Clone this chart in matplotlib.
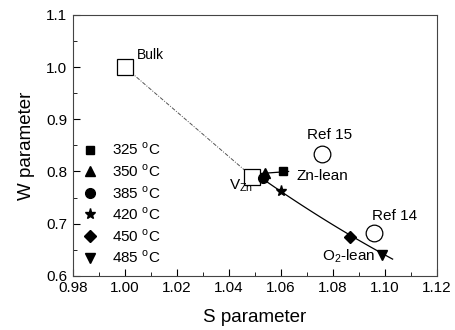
import numpy as np
import matplotlib
matplotlib.use('Agg')
import matplotlib.pyplot as plt

plt.rcParams['font.family'] = ['Liberation Sans', 'DejaVu Sans']
plt.rcParams['mathtext.fontset'] = 'custom'
plt.rcParams['mathtext.rm'] = 'Liberation Sans'

# measured samples
temps = ['325', '350', '385', '420', '450', '485']
markers = ['s', '^', 'o', '*', 'D', 'v']
s_vals = [1.061, 1.054, 1.053, 1.060, 1.0865, 1.099]
w_vals = [0.800, 0.797, 0.788, 0.763, 0.675, 0.640]
msizes = [6, 7, 7, 8, 6, 7]

# reference states (open symbols)
bulk = (1.000, 1.000)
vzn = (1.049, 0.790)
ref15 = (1.076, 0.834)
ref14 = (1.096, 0.682)

# guide lines
zn_lean_s = [1.052, 1.063]
zn_lean_w = [0.796, 0.800]
o2_lean_s = [1.051, 1.060, 1.087, 1.103]
o2_lean_w = [0.791, 0.765, 0.675, 0.633]

fig = plt.figure(figsize=(4.55, 3.3), dpi=100)
ax = fig.add_axes([0.160, 0.164, 0.800, 0.791])

ax.plot([bulk[0], vzn[0]], [bulk[1], vzn[1]], color='#555555', lw=0.7,
        linestyle=(0, (4, 1.5, 1, 1.5)), zorder=1)
ax.plot(zn_lean_s, zn_lean_w, color='black', lw=0.9, zorder=1)
c = np.polyfit(o2_lean_s, o2_lean_w, 2)
xs = np.linspace(o2_lean_s[0], o2_lean_s[-1], 100)
ax.plot(xs, np.polyval(c, xs), color='black', lw=0.9, zorder=1)

ax.plot(*bulk, 's', ms=11, mfc='white', mec='black', mew=0.9, zorder=3)
ax.plot(*vzn, 's', ms=11, mfc='white', mec='black', mew=0.9, zorder=3)
ax.plot(*ref15, 'o', ms=12, mfc='white', mec='black', mew=0.9, zorder=3)
ax.plot(*ref14, 'o', ms=12, mfc='white', mec='black', mew=0.9, zorder=3)

for t, m, s, w, ms in zip(temps, markers, s_vals, w_vals, msizes):
    ax.plot(s, w, m, color='black', ms=ms, linestyle='none', zorder=4,
            label=t + r' $^{\mathregular{o}}$C')

ax.text(1.0046, 1.0157, 'Bulk', fontsize=10)
ax.text(1.070, 0.862, 'Ref 15', fontsize=11)
ax.text(1.0662, 0.784, 'Zn-lean', fontsize=11)
ax.text(1.040, 0.765, r'V$_{\mathregular{Zn}}$', fontsize=11)
ax.text(1.095, 0.707, 'Ref 14', fontsize=11)
ax.text(1.0758, 0.629, r'O$_{\mathregular{2}}$-lean', fontsize=11)

leg = ax.legend(loc='lower left', bbox_to_anchor=(0.0, 0.0), frameon=False,
                fontsize=11, handletextpad=0.9, labelspacing=0.32,
                handlelength=1.0, borderaxespad=0.25)

ax.set_xlim(0.98, 1.12)
ax.set_ylim(0.6, 1.1)
ax.set_xticks(np.arange(0.98, 1.121, 0.02))
ax.set_yticks(np.arange(0.6, 1.101, 0.1))
ax.set_xticks(np.arange(0.99, 1.12, 0.02), minor=True)
ax.set_yticks(np.arange(0.65, 1.1, 0.1), minor=True)
ax.xaxis.set_major_formatter(matplotlib.ticker.FormatStrFormatter('%.2f'))
ax.yaxis.set_major_formatter(matplotlib.ticker.FormatStrFormatter('%.1f'))
ax.tick_params(which='both', direction='in', labelsize=11, top=False, right=False, pad=4)
ax.tick_params(which='major', length=5)
ax.tick_params(which='minor', length=3)
for sp in ax.spines.values():
    sp.set_color('#444444')

ax.set_xlabel('S parameter', fontsize=13.5, labelpad=10)
ax.set_ylabel('W parameter', fontsize=13.5, labelpad=8)

fig.savefig('out.png', dpi=100)
